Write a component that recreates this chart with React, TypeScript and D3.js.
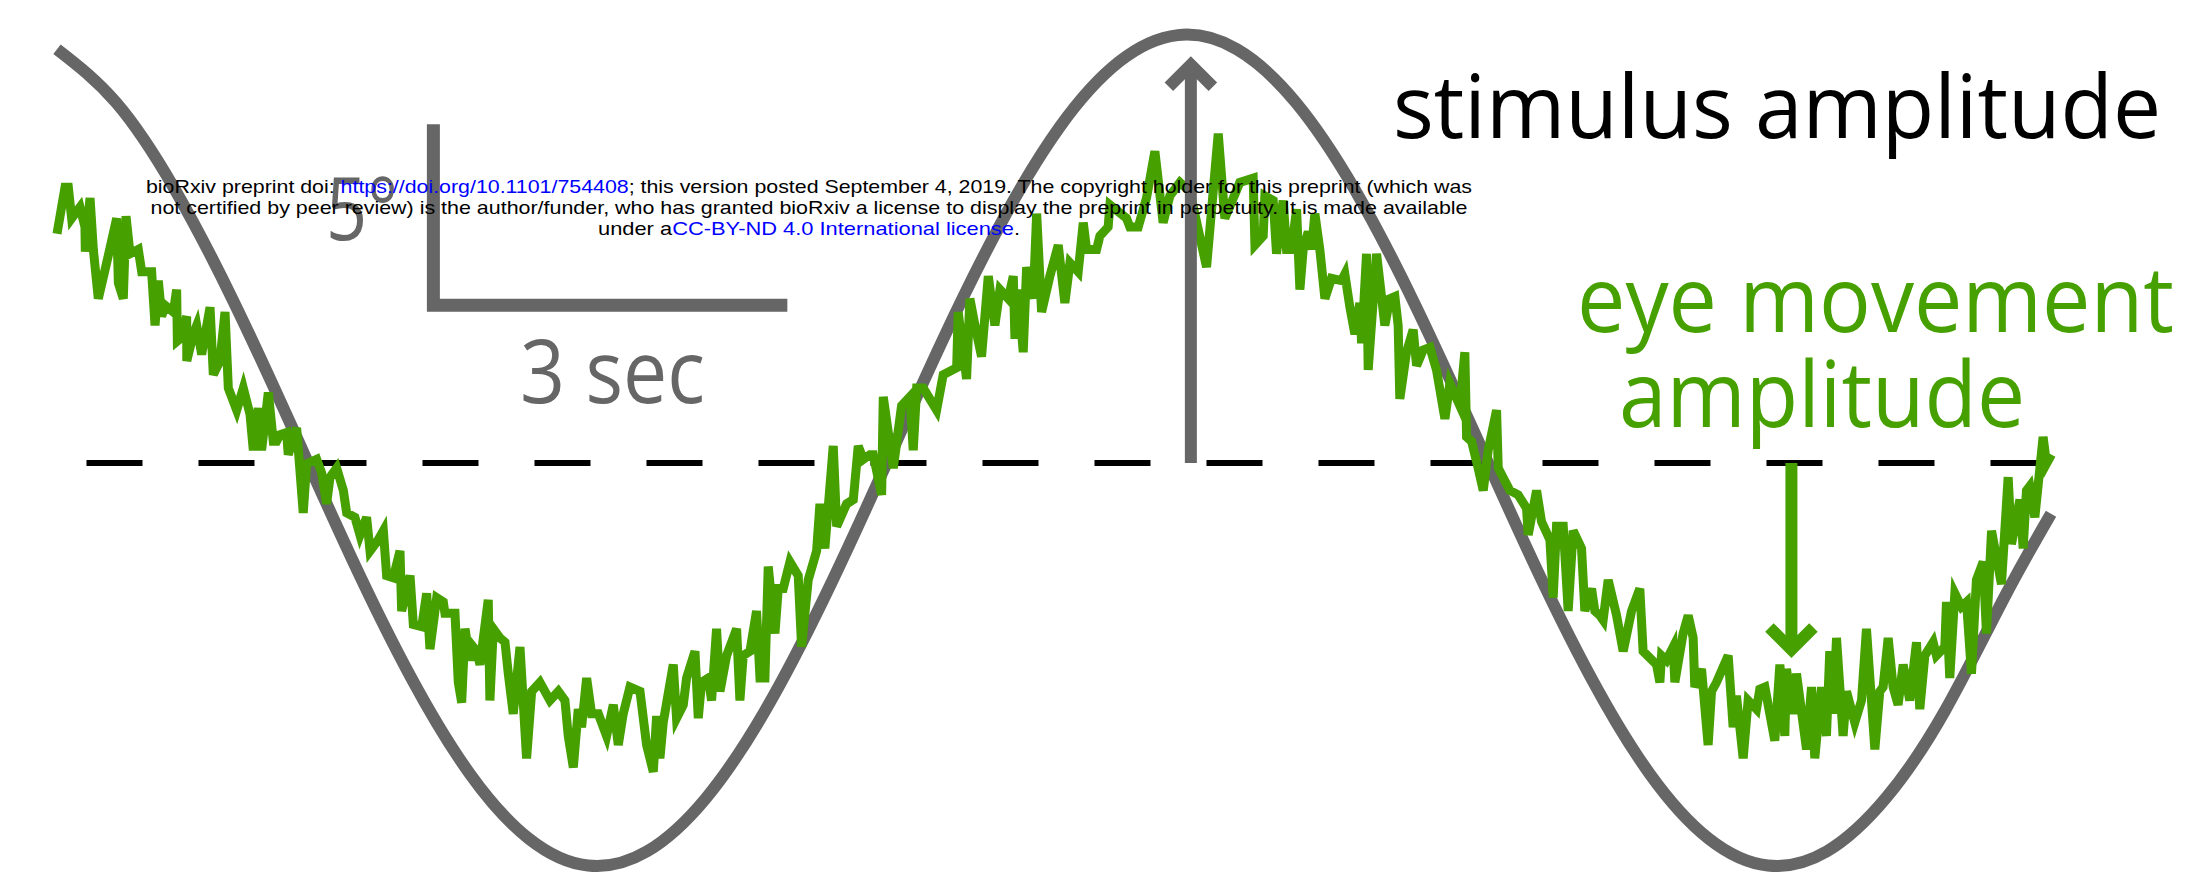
import React, { useRef, useEffect } from "react";
import * as d3 from "d3";

// stimulus trace (deg), read every 0.5 s, last sample at the right edge
const stimTimes = [
    0, 0.5, 1, 1.5, 2, 2.5, 3, 3.5, 4, 4.5, 5, 5.5, 6, 6.5, 7, 7.5, 8, 8.5,
    9, 9.5, 10, 10.5, 11, 11.5, 12, 12.5, 13, 13.5, 14, 14.5, 15, 15.5, 16, 16.5, 16.9,
];
const stimDeg = [
    11.43, 9.96, 7.55, 4.44, 0.93, -2.65, -5.92, -8.59, -10.38, -11.12, -10.73, -9.26,
    -6.85, -3.74, -0.23, 3.35, 6.62, 9.29, 11.08, 11.82, 11.43, 9.96, 7.55, 4.44, 0.93,
    -2.65, -5.92, -8.59, -10.38, -11.12, -10.73, -9.26, -6.85, -3.74, -1.4,
];

// eye position trace, [time s, position deg]
const eyeFall1: [number, number][] = [
    [0, 6.33], [0.068, 7.62], [0.096, 7.62], [0.124, 6.76], [0.153, 6.89], [0.195, 7.07], [0.237, 6.52], [0.24, 5.84],
    [0.28, 7.32], [0.308, 5.9], [0.35, 4.54], [0.421, 5.53], [0.506, 6.76], [0.52, 4.97], [0.562, 4.54], [0.585, 6.82],
    [0.619, 5.78], [0.689, 5.9], [0.718, 5.28], [0.802, 5.28], [0.831, 3.8], [0.859, 5.04], [0.887, 4.05], [0.915, 4.36],
    [0.986, 4.17], [1.014, 4.79], [1.02, 3.37], [1.042, 3.43], [1.099, 4.05], [1.1, 2.82], [1.155, 3.56], [1.184, 3.8],
    [1.226, 3.0], [1.297, 4.3], [1.325, 2.44], [1.381, 2.82], [1.424, 4.17], [1.452, 2.07], [1.523, 1.46], [1.579, 2.07],
    [1.636, 1.34], [1.664, 0.35], [1.706, 1.52], [1.734, 0.35], [1.791, 1.95], [1.833, 0.6], [1.861, 0.6], [1.89, 0.78],
    [1.946, 0.84], [1.96, 0.23], [2.031, 0.97], [2.087, -1.38], [2.116, -0.02], [2.201, 0.1], [2.243, -0.27], [2.285, -1.13],
    [2.314, -0.39], [2.37, -0.14], [2.427, -0.76], [2.455, -1.38], [2.525, -1.5], [2.568, -1.99], [2.624, -1.5], [2.653, -2.43],
    [2.723, -2.12], [2.766, -1.87], [2.794, -3.11], [2.85, -3.17], [2.907, -2.43], [2.921, -4.09], [2.992, -3.11], [3.02, -4.46],
    [3.091, -4.52], [3.133, -3.6], [3.161, -5.14], [3.218, -3.72], [3.274, -3.84], [3.288, -4.15], [3.373, -4.15], [3.401, -6.06],
];
const eyeTrough1: [number, number][] = [
    [3.43, -6.62], [3.458, -4.58], [3.5, -5.45], [3.528, -5.08], [3.557, -5.2], [3.585, -5.57], [3.655, -3.78], [3.669, -6.56],
    [3.698, -4.58], [3.754, -4.83], [3.797, -4.95], [3.825, -5.82], [3.867, -6.93], [3.924, -5.08], [3.98, -8.16], [4.023, -6.31],
    [4.093, -6.06], [4.178, -6.56], [4.249, -6.31], [4.305, -6.56], [4.333, -7.54], [4.376, -8.41], [4.418, -6.8], [4.446, -7.3],
    [4.489, -5.94], [4.531, -6.93], [4.588, -6.93], [4.658, -7.54], [4.715, -6.68], [4.757, -7.79], [4.799, -6.93], [4.856, -6.19],
    [4.941, -6.31], [4.997, -7.79], [5.054, -8.53], [5.082, -6.99], [5.11, -8.16], [5.138, -7.17], [5.223, -5.57], [5.251, -7.05],
    [5.308, -6.68], [5.336, -5.94], [5.407, -5.2], [5.435, -7.05], [5.463, -6.06], [5.52, -5.94], [5.548, -6.56], [5.59, -4.58],
    [5.619, -6.31], [5.675, -5.32], [5.76, -4.58], [5.788, -6.56], [5.816, -5.32], [5.873, -5.2], [5.929, -4.09], [5.958, -5.94],
    [6.0, -5.94], [6.028, -2.86], [6.085, -4.71], [6.113, -3.47], [6.155, -3.47], [6.212, -2.73], [6.282, -3.11], [6.311, -5.08],
    [6.367, -3.23], [6.438, -2.43], [6.466, -1.13], [6.508, -2.36], [6.579, 0.47], [6.608, -1.75], [6.692, -1.13], [6.749, -1.01],
    [6.791, 0.47], [6.833, 0.1], [6.89, 0.23],
];
const eyePeak: [number, number][] = [
    [6.918, 0.23], [6.989, -0.88], [7.003, 1.83], [7.088, -0.14], [7.158, 1.58], [7.229, 1.83], [7.257, 0.35], [7.286, 2.07],
    [7.342, 2.07], [7.455, 1.46], [7.511, 2.44], [7.625, 2.63], [7.638, 4.17], [7.709, 2.32], [7.737, 4.54], [7.78, 3.8],
    [7.836, 2.94], [7.893, 5.16], [7.949, 3.8], [7.992, 4.79], [8.062, 4.54], [8.105, 5.16], [8.119, 3.43], [8.147, 4.79],
    [8.189, 3.06], [8.218, 5.41], [8.274, 4.54], [8.303, 6.89], [8.345, 4.17], [8.415, 5.16], [8.486, 6.02], [8.542, 4.42],
    [8.585, 5.53], [8.655, 5.28], [8.698, 6.64], [8.726, 5.9], [8.811, 5.9], [8.839, 6.27], [8.909, 6.52], [8.924, 7.13],
    [9.065, 6.76], [9.093, 6.52], [9.164, 6.52], [9.234, 7.32], [9.305, 8.61], [9.375, 6.64], [9.432, 7.38], [9.517, 7.75],
    [9.602, 7.5], [9.743, 5.41], [9.842, 9.1], [9.898, 6.76], [10.025, 7.75], [10.138, 7.87], [10.153, 6.02], [10.223, 6.27],
    [10.237, 7.38], [10.308, 7.25], [10.336, 5.78],
];
const eyeFall2: [number, number][] = [
    [10.392, 7.25], [10.421, 5.9], [10.463, 5.9], [10.506, 7.01], [10.534, 4.79], [10.562, 5.9], [10.605, 6.39], [10.633, 5.9],
    [10.661, 6.89], [10.703, 5.9], [10.746, 4.54], [10.802, 5.1], [10.887, 5.04], [10.915, 5.22], [10.958, 4.3], [11.0, 3.56],
    [11.042, 4.42], [11.057, 3.31], [11.099, 5.78], [11.113, 2.57], [11.184, 5.78], [11.254, 3.8], [11.297, 4.54], [11.339, 4.6],
    [11.367, 3.8], [11.381, 1.77], [11.438, 3.06], [11.494, 3.68], [11.523, 2.69], [11.579, 3.12], [11.636, 3.19], [11.692, 2.57],
    [11.763, 1.22], [11.805, 2.2], [11.89, 1.58], [11.932, 3.06], [11.947, 0.72], [11.989, 0.6], [12.045, -0.14], [12.088, -0.76],
    [12.13, 0.35], [12.201, 1.46], [12.215, -0.14], [12.314, -0.76], [12.384, -0.88], [12.455, -1.25], [12.469, -1.99], [12.54, -0.76],
    [12.582, -1.62], [12.653, -2.12], [12.681, -3.72], [12.709, -1.75], [12.766, -1.75], [12.808, -4.09], [12.85, -1.87], [12.921, -2.36],
    [12.949, -4.09], [13.006, -3.47], [13.034, -4.09], [13.076, -4.21], [13.104, -4.34], [13.147, -3.23], [13.218, -4.21], [13.274, -5.2],
    [13.345, -4.09], [13.415, -3.47], [13.443, -5.2], [13.557, -5.57], [13.585, -6.06], [13.599, -5.32], [13.641, -5.45], [13.698, -5.08],
    [13.712, -6.06], [13.782, -4.71], [13.825, -4.21],
];
const eyeTrough2: [number, number][] = [
    [13.867, -4.83], [13.881, -6.19], [13.938, -5.69], [13.994, -7.79], [14.023, -6.31], [14.065, -6.06], [14.164, -5.32], [14.206, -7.3],
    [14.234, -6.43], [14.291, -8.16], [14.333, -6.56], [14.404, -6.8], [14.432, -6.25], [14.475, -6.19], [14.559, -7.67], [14.602, -5.57],
    [14.644, -7.54], [14.658, -5.69], [14.715, -6.93], [14.743, -5.82], [14.828, -7.91], [14.87, -6.19], [14.898, -8.16], [14.955, -6.19],
    [14.997, -7.54], [15.025, -5.2], [15.054, -6.93], [15.082, -4.83], [15.138, -7.54], [15.167, -6.31], [15.237, -7.17], [15.294, -6.56],
    [15.336, -4.58], [15.407, -7.91], [15.449, -6.31], [15.477, -6.19], [15.52, -4.83], [15.562, -6.19], [15.604, -6.68], [15.647, -5.57],
    [15.703, -6.56], [15.76, -4.95], [15.788, -6.8], [15.831, -5.32], [15.901, -4.95], [15.929, -5.32], [16.0, -5.08], [16.014, -3.84],
    [16.042, -5.94], [16.085, -3.6], [16.141, -3.97], [16.184, -3.84], [16.226, -5.82], [16.268, -3.23], [16.325, -2.73], [16.353, -4.71],
    [16.396, -1.87], [16.48, -3.35], [16.537, -0.39], [16.565, -2.24], [16.636, -1.01], [16.664, -2.36], [16.692, -0.76], [16.72, -0.64],
    [16.763, -1.5], [16.833, 0.72], [16.862, -0.02], [16.904, 0.23],
];

// annotations (time in s, position in deg)
const stimArrow = { t: 9.61, top: 11.0 };
const eyeArrow = { t: 14.7, tip: -5.15 };
const scaleBar = { t: 3.19, deg: 4.36, dt: 3, ddeg: 5 };
const dashStart = 0.25;

const noticeLines = [
    [
        { text: "bioRxiv preprint doi: ", link: false },
        { text: "https://doi.org/10.1101/754408", link: true },
        { text: "; this version posted September 4, 2019. The copyright holder for this preprint (which was", link: false },
    ],
    [
        { text: "not certified by peer review) is the author/funder, who has granted bioRxiv a license to display the preprint in perpetuity. It is made available", link: false },
    ],
    [
        { text: "under a", link: false },
        { text: "CC-BY-ND 4.0 International license", link: true },
        { text: ".", link: false },
    ],
];
const noticeWidths = [1326, 1317, 422];

const GRAY = "#666666";
const GREEN = "#46a000";

export default function App() {
    const ref = useRef<SVGSVGElement | null>(null);

    useEffect(() => {
        const width = 2191;
        const height = 874;

        d3.select(ref.current).selectAll("*").remove();

        const svg = d3
            .select(ref.current)
            .attr("width", width)
            .attr("height", height)
            .style("display", "block")
            .style("background", "#fff");

        const x = d3.scaleLinear().domain([0, 16.9]).range([57, 2051]);
        const y = d3.scaleLinear().domain([0, 5]).range([463, 282]);

        // zero line
        svg.append("line")
            .attr("x1", x(dashStart))
            .attr("x2", x(16.9))
            .attr("y1", y(0))
            .attr("y2", y(0))
            .attr("stroke", "#000")
            .attr("stroke-width", 6)
            .attr("stroke-dasharray", "56 56");

        // stimulus
        const stimLine = d3.line<number>()
            .x((_, i) => x(stimTimes[i]))
            .y((d) => y(d))
            .curve(d3.curveNatural);

        svg.append("path")
            .attr("d", stimLine(stimDeg))
            .attr("fill", "none")
            .attr("stroke", GRAY)
            .attr("stroke-width", 12);

        // eye movement
        const eye = [...eyeFall1, ...eyeTrough1, ...eyePeak, ...eyeFall2, ...eyeTrough2];
        const eyeLine = d3.line<[number, number]>()
            .x((d) => x(d[0]))
            .y((d) => y(d[1]));

        svg.append("path")
            .attr("d", eyeLine(eye))
            .attr("fill", "none")
            .attr("stroke", GREEN)
            .attr("stroke-width", 9)
            .attr("stroke-linejoin", "miter");

        // up arrow (stimulus amplitude)
        const ux = x(stimArrow.t);
        const uy = y(stimArrow.top);
        svg.append("line")
            .attr("x1", ux).attr("x2", ux)
            .attr("y1", y(0)).attr("y2", uy)
            .attr("stroke", GRAY)
            .attr("stroke-width", 12);
        svg.append("path")
            .attr("d", `M${ux - 22},${uy + 22}L${ux},${uy}L${ux + 22},${uy + 22}`)
            .attr("fill", "none")
            .attr("stroke", GRAY)
            .attr("stroke-width", 12);

        // down arrow (eye movement amplitude)
        const dx = x(eyeArrow.t);
        const dy = y(eyeArrow.tip);
        svg.append("line")
            .attr("x1", dx).attr("x2", dx)
            .attr("y1", y(0)).attr("y2", dy)
            .attr("stroke", GREEN)
            .attr("stroke-width", 12);
        svg.append("path")
            .attr("d", `M${dx - 22},${dy - 22}L${dx},${dy}L${dx + 22},${dy - 22}`)
            .attr("fill", "none")
            .attr("stroke", GREEN)
            .attr("stroke-width", 12);

        // scale bar
        svg.append("path")
            .attr("d", `M${x(scaleBar.t)},${y(scaleBar.deg + scaleBar.ddeg)}V${y(scaleBar.deg)}H${x(scaleBar.t + scaleBar.dt)}`)
            .attr("fill", "none")
            .attr("stroke", GRAY)
            .attr("stroke-width", 13);

        const label = (txt: string, tx: number, ty: number, size: number, fill: string, len: number) =>
            svg.append("text")
                .attr("x", tx)
                .attr("y", ty)
                .attr("font-family", "'Open Sans', sans-serif")
                .attr("font-size", size)
                .attr("fill", fill)
                .attr("textLength", len)
                .attr("lengthAdjust", "spacingAndGlyphs")
                .text(txt);

        label("5°", 326, 240, 88, GRAY, 72);
        label("3 sec", 520, 403, 88, GRAY, 185);
        label("stimulus amplitude", 1393, 138, 88, "#000", 768);
        label("eye movement", 1577, 332, 92, GREEN, 597);
        label("amplitude", 1619, 427, 92, GREEN, 406);

        // preprint notice
        const notice = svg.append("g")
            .attr("font-family", "'Liberation Sans', Arial, sans-serif")
            .attr("font-size", 19)
            .attr("text-anchor", "middle");
        noticeLines.forEach((parts, li) => {
            const t = notice.append("text")
                .attr("x", 809)
                .attr("y", 193 + li * 21)
                .attr("textLength", noticeWidths[li])
                .attr("lengthAdjust", "spacingAndGlyphs");
            parts.forEach((p) => {
                t.append("tspan")
                    .attr("fill", p.link ? "#0000ff" : "#000")
                    .text(p.text);
            });
        });
    }, []);

    return (
        <div style={{ position: "absolute", left: 0, top: 0 }}>
            <svg ref={ref}></svg>
        </div>
    );
}
